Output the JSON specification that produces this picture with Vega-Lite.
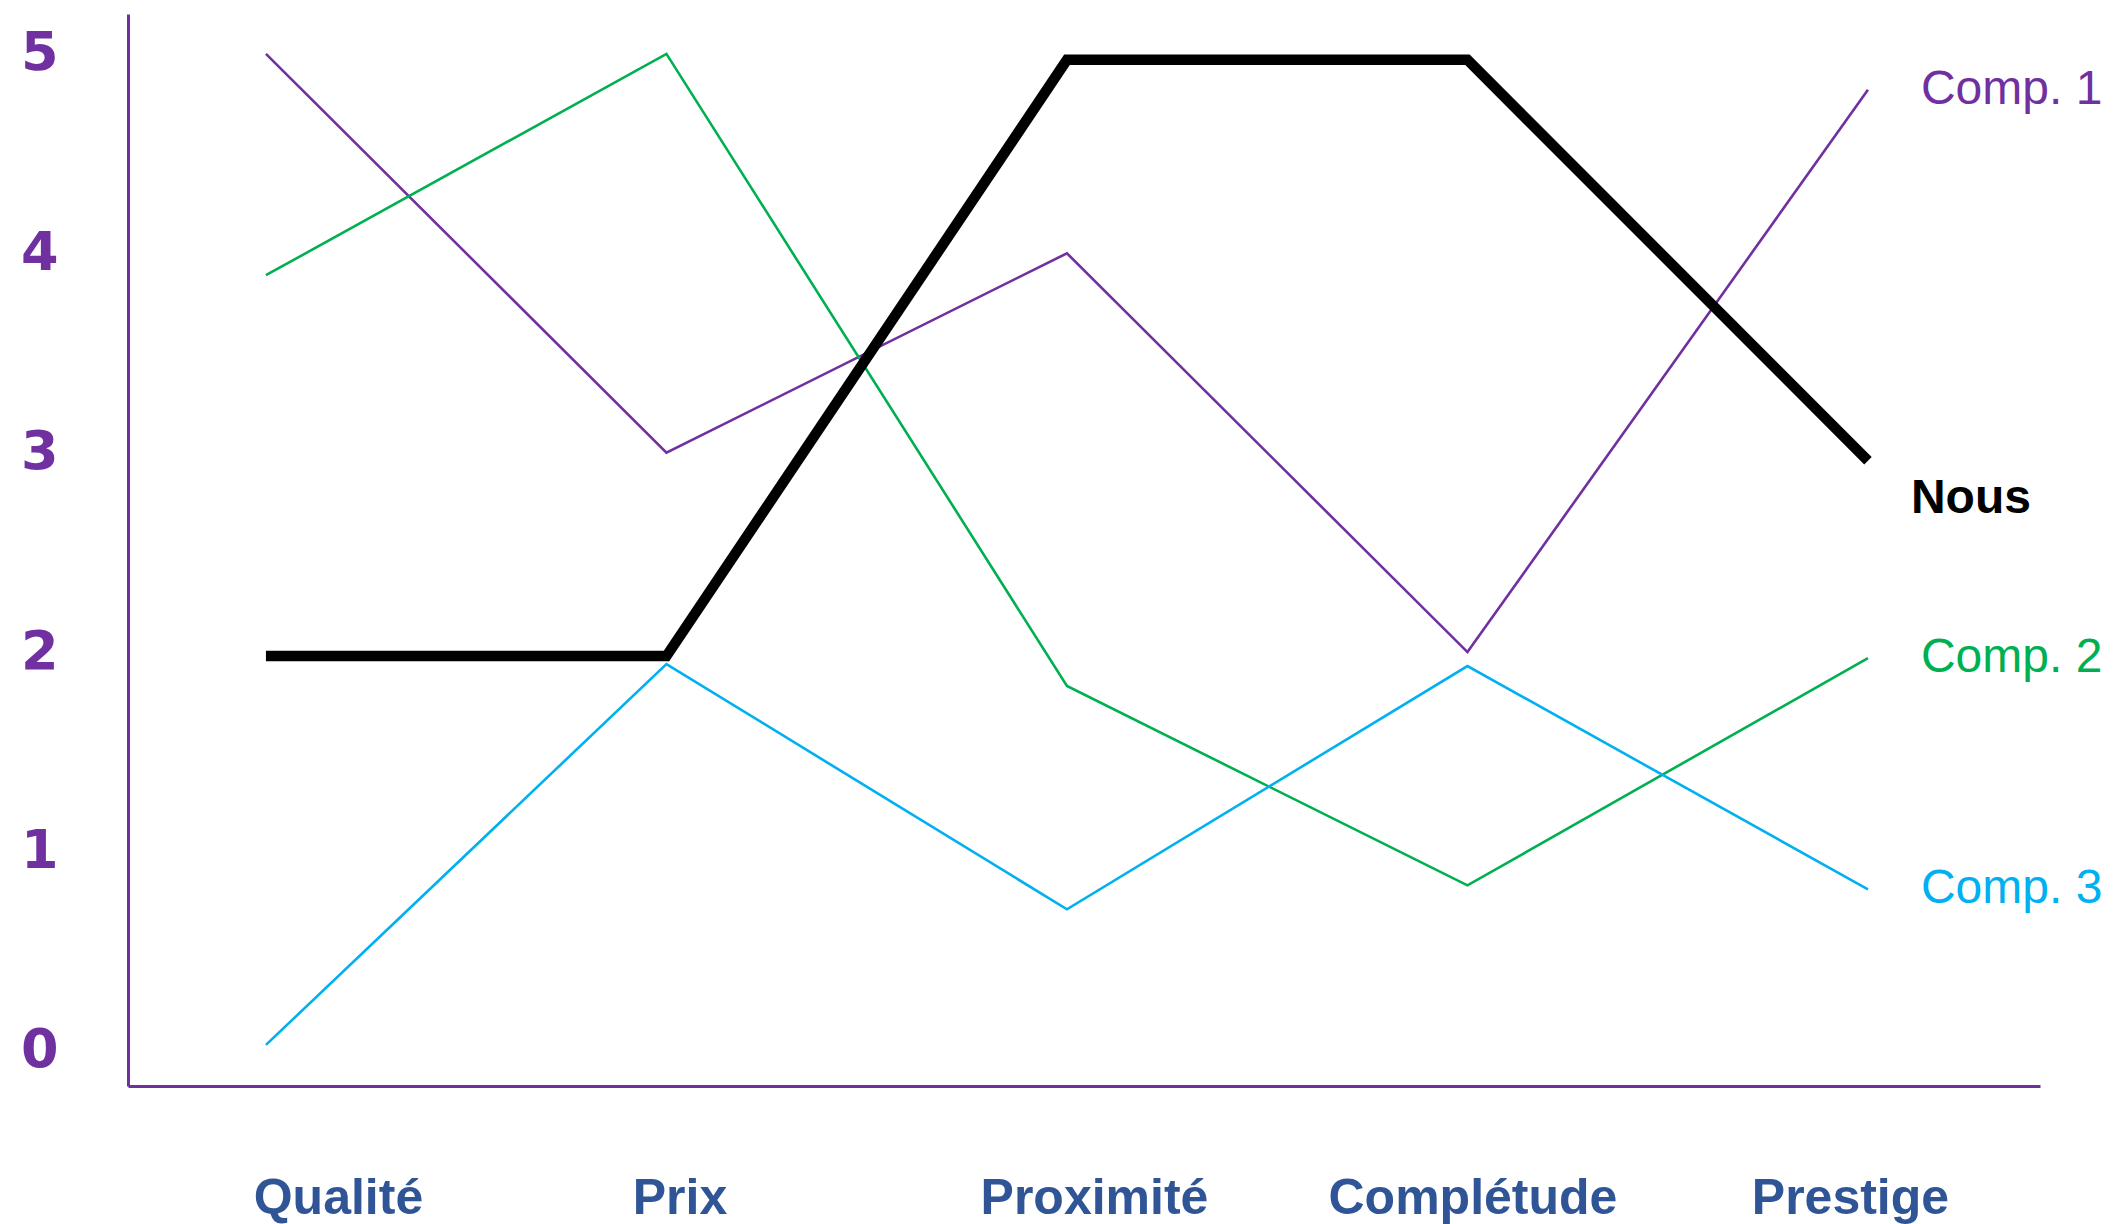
{
  "$schema": "https://vega.github.io/schema/vega-lite/v6.json",
  "width": 1912,
  "height": 1072,
  "autosize": {"type": "none"},
  "padding": {"left": 128, "top": 14, "right": 81, "bottom": 138},
  "background": "white",
  "config": {"view": {"stroke": null}},
  "data": {
    "values": [
      {"serie": "Comp. 1", "critere": "Qualité", "note": 5.0},
      {"serie": "Comp. 1", "critere": "Prix", "note": 3.0},
      {"serie": "Comp. 1", "critere": "Proximité", "note": 4.0},
      {"serie": "Comp. 1", "critere": "Complétude", "note": 2.0},
      {"serie": "Comp. 1", "critere": "Prestige", "note": 4.82},
      {"serie": "Comp. 2", "critere": "Qualité", "note": 3.89},
      {"serie": "Comp. 2", "critere": "Prix", "note": 5.0},
      {"serie": "Comp. 2", "critere": "Proximité", "note": 1.83},
      {"serie": "Comp. 2", "critere": "Complétude", "note": 0.83},
      {"serie": "Comp. 2", "critere": "Prestige", "note": 1.97},
      {"serie": "Comp. 3", "critere": "Qualité", "note": 0.03},
      {"serie": "Comp. 3", "critere": "Prix", "note": 1.94},
      {"serie": "Comp. 3", "critere": "Proximité", "note": 0.71},
      {"serie": "Comp. 3", "critere": "Complétude", "note": 1.93},
      {"serie": "Comp. 3", "critere": "Prestige", "note": 0.81},
      {"serie": "Nous", "critere": "Qualité", "note": 1.98},
      {"serie": "Nous", "critere": "Prix", "note": 1.98},
      {"serie": "Nous", "critere": "Proximité", "note": 4.97},
      {"serie": "Nous", "critere": "Complétude", "note": 4.97},
      {"serie": "Nous", "critere": "Prestige", "note": 2.96}
    ]
  },
  "encoding": {
    "x": {
      "field": "critere",
      "type": "ordinal",
      "sort": ["Qualité", "Prix", "Proximité", "Complétude", "Prestige"],
      "scale": {"type": "point", "padding": 0.387, "align": 0.445},
      "axis": {
        "title": null,
        "labelAngle": 0,
        "ticks": false,
        "tickSize": 0,
        "grid": false,
        "domainColor": "#7030A0",
        "domainWidth": 3,
        "labelFont": "Liberation Sans",
        "labelFontSize": 50,
        "labelFontWeight": "bold",
        "labelColor": "#2F5597",
        "labelPadding": 87,
        "labelBaseline": "top",
        "labelOverlap": false,
        "labelLimit": 0,
        "labelOffset": {"expr": "datum.value === 'Qualité' ? 72 : datum.value === 'Prix' ? 13 : datum.value === 'Proximité' ? 27 : datum.value === 'Complétude' ? 5 : -18"}
      }
    },
    "y": {
      "field": "note",
      "type": "quantitative",
      "scale": {"domain": [-0.176, 5.2], "nice": false, "zero": false},
      "axis": {
        "title": null,
        "values": [0, 1, 2, 3, 4, 5],
        "ticks": false,
        "tickSize": 0,
        "grid": false,
        "domainColor": "#7030A0",
        "domainWidth": 3,
        "labelFont": "DejaVu Sans",
        "labelFontWeight": "bold",
        "labelFontSize": 54,
        "labelColor": "#7030A0",
        "labelPadding": 70
      }
    },
    "color": {
      "field": "serie",
      "type": "nominal",
      "scale": {
        "domain": ["Comp. 1", "Comp. 2", "Comp. 3", "Nous"],
        "range": ["#7030A0", "#00B050", "#00B0F0", "#000000"]
      },
      "legend": null
    }
  },
  "layer": [
    {
      "transform": [{"filter": "datum.serie != 'Nous'"}],
      "mark": {"type": "line", "strokeWidth": 2.6}
    },
    {
      "transform": [{"filter": "datum.serie == 'Nous'"}],
      "mark": {"type": "line", "strokeWidth": 10.5}
    },
    {
      "transform": [{"filter": "datum.critere == 'Prestige' && datum.serie != 'Nous'"}],
      "mark": {"type": "text", "align": "left", "baseline": "middle", "dx": 53, "font": "Liberation Sans", "fontSize": 48},
      "encoding": {"text": {"field": "serie", "type": "nominal"}}
    },
    {
      "transform": [{"filter": "datum.critere == 'Prestige' && datum.serie == 'Nous'"}],
      "mark": {"type": "text", "align": "left", "baseline": "middle", "dx": 43, "dy": 38, "font": "Liberation Sans", "fontSize": 48, "fontWeight": "bold"},
      "encoding": {"text": {"field": "serie", "type": "nominal"}}
    }
  ]
}
